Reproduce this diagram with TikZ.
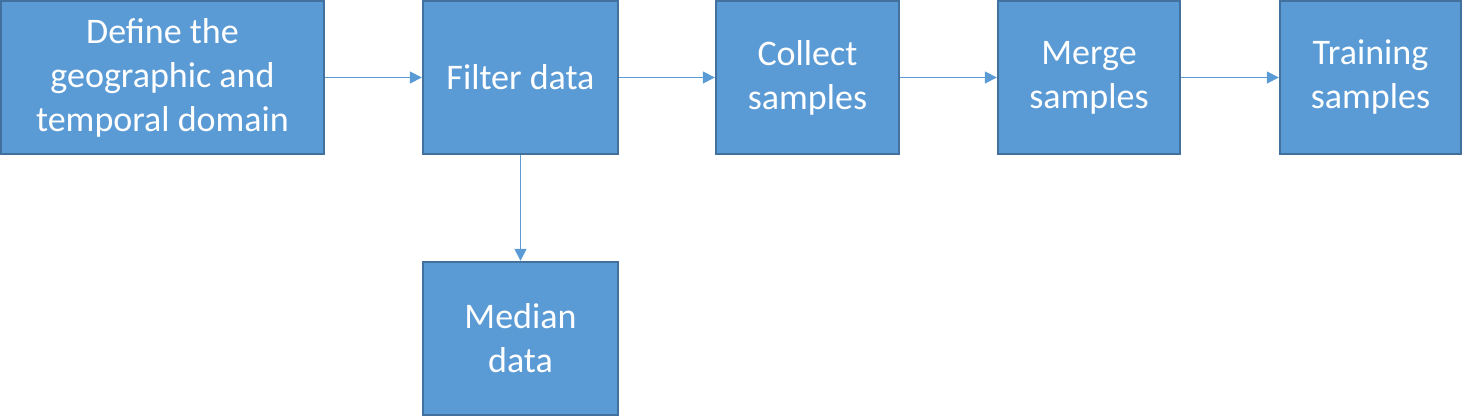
\documentclass[tikz,border=0pt]{standalone}
\usepackage{fontspec}
\setmainfont{Carlito}
\usetikzlibrary{arrows, arrows.meta}
\definecolor{boxfill}{HTML}{5B9BD5}
\definecolor{boxline}{HTML}{41719C}
\tikzset{stage/.style = {shape = rectangle, draw = boxline, fill = boxfill, line width = 1.2pt,
  minimum height = 76.5pt, text = white, align = center, inner sep = 0pt,
  font = \fontsize{18pt}{22pt}\selectfont}}
\tikzset{flow/.style = {draw = boxfill, line width = 0.8pt, -{Triangle[length = 6pt, width = 6pt]}}}

\begin{document}
\begin{tikzpicture}[x = 0.5pt, y = -0.5pt]
				\useasboundingbox (0, 0) rectangle (1463, 417);
				\node[stage, minimum width = 161.5pt] (domain) at (162.5, 77.5) {Define the\\geographic and\\temporal domain};
				\node[stage, minimum width = 97.5pt] (filter) at (520.5, 77.5) {Filter data};
				\node[stage, minimum width = 91.5pt] (collect) at (807.5, 77.5) {Collect\\samples};
				\node[stage, minimum width = 91pt] (merge) at (1089, 77.5) {Merge\\samples};
				\node[stage, minimum width = 90.5pt] (training) at (1370.5, 77.5) {Training\\samples};
				\node[stage, minimum width = 97.5pt] (median) at (520.5, 338.5) {Median\\data};
	
				\draw[flow] (domain) -- (filter);
				\draw[flow] (filter) -- (collect);
				\draw[flow] (collect) -- (merge);
				\draw[flow] (merge) -- (training);
				\draw[flow] (filter) -- (median);
			\end{tikzpicture}
\end{document}
